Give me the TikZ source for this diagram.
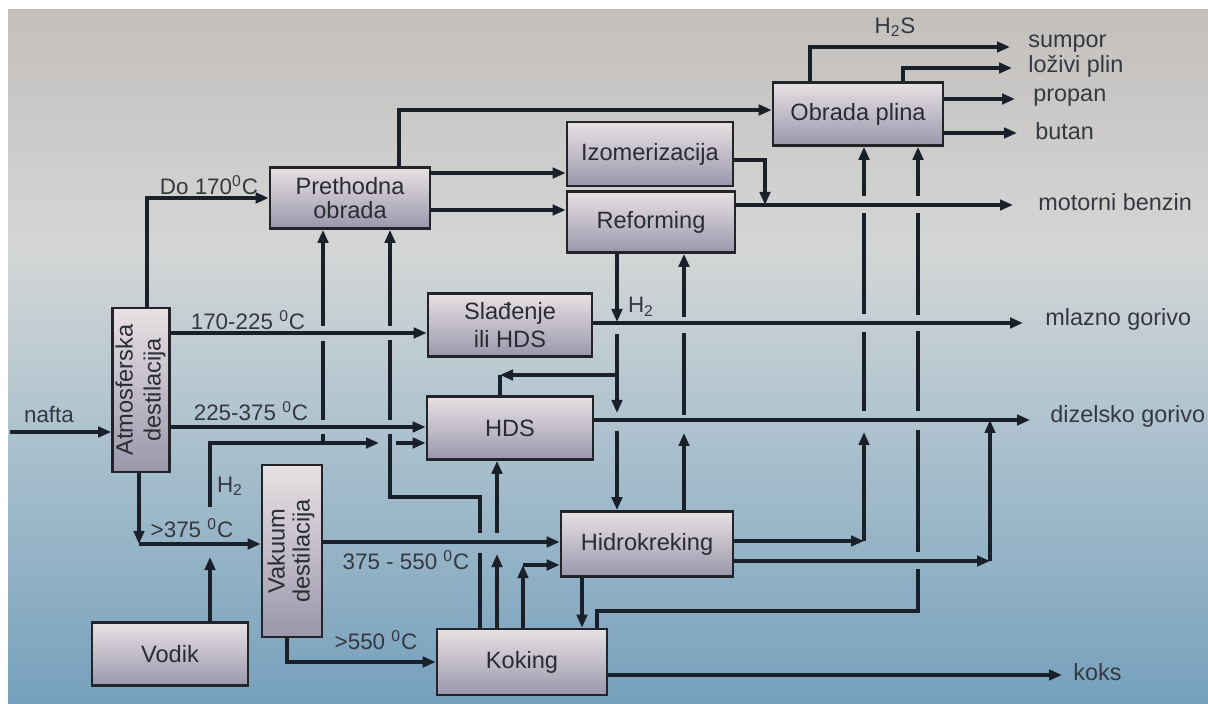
\documentclass[tikz,border=0pt]{standalone}
\usepackage{fontspec}
\setmainfont{Liberation Sans}
\usepackage{graphicx}
\usetikzlibrary{arrows.meta}
\definecolor{linec}{HTML}{1A2029}
\definecolor{txtc}{HTML}{2A2C33}
\definecolor{lblc}{HTML}{353840}
\definecolor{boxtop}{HTML}{E8E1E3}
\definecolor{boxbot}{HTML}{9A97AC}
\definecolor{boxdraw}{HTML}{22242A}
\definecolor{bgA}{HTML}{C3BFBC}
\definecolor{bgB}{HTML}{D4D6D6}
\definecolor{bgC}{HTML}{A9C0CD}
\definecolor{bgD}{HTML}{76A0BC}
\newcommand\bxfnt{\fontsize{11.8}{13}\selectfont}
\newcommand\lbfnt{\fontsize{11.2}{13}\selectfont}
\newcommand\rtfnt{\fontsize{11.7}{13}\selectfont}
\begin{document}
\begin{tikzpicture}[x=0.5pt,y=-0.5pt,
  ln/.style={draw=linec, line width=1.6pt},
  arr/.style={ln, -{Triangle[length=6.5pt,width=5.2pt]}},
  box/.style={draw=boxdraw, line width=1.3pt, top color=boxtop, bottom color=boxbot,
    text=txtc, font=\bxfnt, align=center, inner sep=0pt},
  lbl/.style={text=lblc, font=\lbfnt, inner sep=0pt},
  outlbl/.style={text=lblc, font=\rtfnt, inner sep=0pt, anchor=west},
]
\fill[white] (0,0) rectangle (1208,704);
\useasboundingbox (0,0) rectangle (1208,704);
\shade[top color=bgA, bottom color=bgB] (8,10) rectangle (1208,251);
\shade[top color=bgB, bottom color=bgC] (8,250) rectangle (1208,451);
\shade[top color=bgC, bottom color=bgD] (8,450) rectangle (1208,704);

% ---------- boxes ----------
\node[box, minimum width=28.5pt, minimum height=82pt] (atm) at (141,390)
  {\rotatebox{90}{\fontsize{11.8}{14}\selectfont\begin{tabular}{@{}c@{}}Atmosferska\\destilacija\end{tabular}}};
\node[box, minimum width=80pt, minimum height=30.5pt, font=\fontsize{11.8}{12}\selectfont] (pre) at (350,198) {Prethodna\\obrada};
\node[box, minimum width=83pt, minimum height=32pt] (izo) at (650,154) {Izomerizacija};
\node[box, minimum width=84pt, minimum height=30.5pt] (ref) at (651,222) {Reforming};
\node[box, minimum width=85pt, minimum height=31.5pt] (obr) at (858,114) {Obrada plina};
\node[box, minimum width=82pt, minimum height=31.5pt, font=\fontsize{11.8}{14}\selectfont] (sla) at (510,325) {Slađenje\\ili HDS};
\node[box, minimum width=83pt, minimum height=31.5pt] (hds) at (510,428) {HDS};
\node[box, minimum width=30pt, minimum height=86pt] (vak) at (292,551)
  {\rotatebox{90}{\fontsize{11.8}{12.5}\selectfont\begin{tabular}{@{}c@{}}Vakuum\\destilacija\end{tabular}}};
\node[box, minimum width=78pt, minimum height=31.5pt] (vod) at (170,654) {Vodik};
\node[box, minimum width=86pt, minimum height=32.5pt] (hid) at (647,544) {Hidrokreking};
\node[box, minimum width=85pt, minimum height=33pt] (kok) at (522,662) {Koking};

% ---------- feed and atmospheric cuts ----------
\coordinate (naftaIn) at (10,432);
\draw[arr] (naftaIn) -- (naftaIn -| atm.west);
\node[lbl] (lnafta) at (49,415) {nafta};

\draw[arr] (atm.north -| 147,0) |- (pre.west);
\node[lbl] (l170) at (209,185) {Do 170\textsuperscript{0}C};

\draw[arr] (atm.east |- 0,333) -- (sla.west |- 0,333);
\node[lbl] (l225) at (248,320) {170-225 \textsuperscript{0}C};

\draw[arr] (atm.east |- 0,427) -- (hds.west |- 0,427);
\node[lbl] (l375) at (251,411) {225-375 \textsuperscript{0}C};

\draw[arr] (atm.south -| 139,0) -- (139,544);
\draw[arr] (139,544) -- (vak.west |- 0,544);
\node[lbl] (lgt375) at (192,528) {>375 \textsuperscript{0}C};

% ---------- hydrogen ----------
\draw[arr] (vod.north -| 210,0) -- (210,557);
\draw[arr] (210,507) -- (210,443) -- (379,443);
\draw[arr] (396,443) -- (hds.west |- 0,443);
\node[lbl] (lh2a) at (230,486) {H\textsubscript{2}};
\draw[ln] (323,443) -- (323,434);
\draw[ln] (323,420) -- (323,341);
\draw[arr] (323,326) -- (pre.south -| 323,0);

% ---------- vacuum ----------
\draw[arr] (vak.east |- 0,542) -- (hid.west |- 0,542);
\node[lbl] (l550) at (406,560) {375 - 550 \textsuperscript{0}C};
\draw[arr] (vak.south -| 287,0) |- (kok.west);
\node[lbl] (lgt550) at (376,640) {>550 \textsuperscript{0}C};

% ---------- naphtha treatment ----------
\draw[arr] (pre.east |- 0,173) -- (izo.west |- 0,173);
\draw[arr] (pre.east |- 0,210) -- (ref.west |- 0,210);
\draw[arr] (pre.north -| 399,0) |- (obr.west |- 0,110);
\draw[arr] (izo.east |- 0,160) -| (765,205);
\draw[arr] (ref.east |- 0,205) -- (1013,205);
\node[outlbl] (lmb) at (1038,202) {motorni benzin};

% ---------- reforming hydrogen down ----------
\draw[arr] (ref.south -| 617,0) -- (617,322);
\draw[arr] (617,334) -- (617,413);
\draw[arr] (617,431) -- (hid.north -| 617,0);
\draw[arr] (617,375) -- (500,375);
\draw[ln] (500,375) -- (hds.north -| 500,0);
\node[lbl] (lh2b) at (641,307) {H\textsubscript{2}};

% ---------- hydrocracking up to reforming ----------
\draw[arr] (hid.north -| 684,0) -- (684,433);
\draw[ln] (684,415) -- (684,333);
\draw[arr] (684,317) -- (ref.south -| 684,0);

% ---------- products ----------
\draw[arr] (sla.east |- 0,323) -- (1023,323);
\node[outlbl] (lmg) at (1045,319) {mlazno gorivo};
\draw[arr] (hds.east |- 0,420) -- (1030,420);
\node[outlbl] (ldg) at (1050,416) {dizelsko gorivo};

% hydrocracking to gas plant
\draw[arr] (hid.east |- 0,541) -- (864,541);
\draw[arr] (864,541) -- (864,432);
\draw[ln] (864,411) -- (864,332);
\draw[ln] (864,314) -- (864,213);
\draw[arr] (864,196) -- (obr.south -| 864,0);

% hydrocracking to diesel
\draw[arr] (hid.east |- 0,561) -- (990,561);
\draw[arr] (990,561) -- (990,420);

\draw[arr] (hid.south -| 582,0) -- (kok.north -| 582,0);

% coking to gas plant
\draw[ln] (kok.north -| 597,0) |- (918,611) -- (918,569);
\draw[ln] (918,552) -- (918,430);
\draw[ln] (918,411) -- (918,331);
\draw[ln] (918,315) -- (918,213);
\draw[arr] (918,196) -- (obr.south -| 918,0);

\draw[arr] (kok.east |- 0,675) -- (1062,675);
\node[outlbl] (lkoks) at (1073,672) {koks};

% coking up-lines
\draw[ln] (kok.north -| 480,0) -- (480,553);
\draw[ln] (480,533) |- (390,497) -- (390,434);
\draw[ln] (390,420) -- (390,340);
\draw[arr] (390,326) -- (pre.south -| 390,0);
\draw[arr] (kok.north -| 497,0) -- (497,554);
\draw[arr] (497,533) -- (hds.south -| 497,0);
\draw[arr] (kok.north -| 523,0) -- (523,565);
\draw[arr] (523,565) -- (hid.west |- 0,565);

% ---------- gas plant outputs ----------
\draw[arr] (obr.north -| 810,0) |- (1010,47);
\node[lbl] (lh2s) at (895,27) {H\textsubscript{2}S};
\node[outlbl] (lsum) at (1028,44) {sumpor};
\draw[arr] (obr.north -| 903,0) |- (1012,68);
\node[outlbl] (lloz) at (1028,66) {loživi plin};
\draw[arr] (obr.east |- 0,99) -- (1015,99);
\node[outlbl] (lprop) at (1033,98) {propan};
\draw[arr] (obr.east |- 0,133) -- (1017,133);
\node[outlbl] (lbut) at (1035,131) {butan};
\end{tikzpicture}
\end{document}
